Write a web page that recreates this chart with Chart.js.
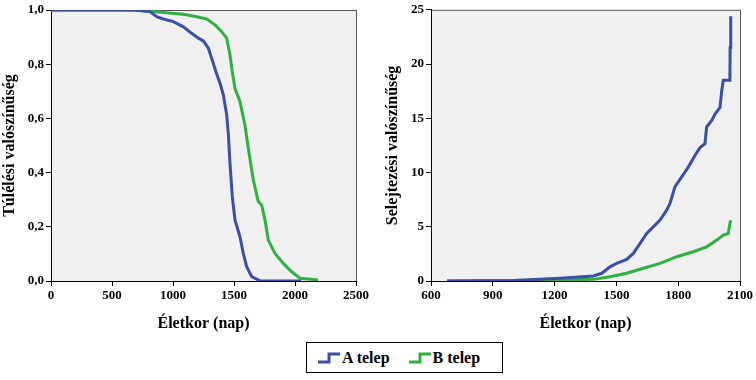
<!DOCTYPE html>
<html>
<head>
<meta charset="utf-8">
<script src="https://cdn.jsdelivr.net/npm/chart.js@4/dist/chart.umd.min.js"></script>
<style>
  html, body { margin:0; padding:0; background:#fff; }
  #wrap { position:relative; width:756px; height:380px; }
  .cw { position:absolute; top:0; width:378px; height:340px; }
  #legend { position:absolute; left:306px; top:342px; width:195px; height:29px; border:1px solid #000;
    font-family:"Liberation Serif", serif; font-weight:bold; font-size:16px; display:flex; align-items:center; box-sizing:content-box; }
  .item { display:flex; align-items:center; }
  .item svg { margin-right:1px; }
</style>
</head>
<body>
<div id="wrap">
  <div class="cw" style="left:0"><canvas id="c1" width="378" height="340"></canvas></div>
  <div class="cw" style="left:378px"><canvas id="c2" width="378" height="340"></canvas></div>
  <div id="legend">
    <div class="item" style="margin-left:10px"><svg width="24" height="14"><polyline points="1,11 12,11 12,3 23,3" fill="none" stroke="#3c4fa6" stroke-width="3"/></svg><span>A telep</span></div>
    <div class="item" style="margin-left:18px"><svg width="24" height="14"><polyline points="1,11 12,11 12,3 23,3" fill="none" stroke="#30b040" stroke-width="3"/></svg><span>B telep</span></div>
  </div>
</div>
<script>
// ---- Data ----
const seriesNames = ["A telep", "B telep"];
// Survival (Kaplan-Meier) curves: age in days, survival probability
const survA_x = [0, 680, 811, 866, 920, 1003, 1085, 1153, 1208, 1249, 1290, 1317, 1352, 1385, 1413, 1440, 1454, 1467, 1486, 1508, 1549, 1576, 1604, 1645, 1713, 1760, 2050];
const survA_y = [1.0, 1.0, 0.994, 0.975, 0.967, 0.957, 0.938, 0.914, 0.896, 0.886, 0.859, 0.822, 0.772, 0.730, 0.686, 0.613, 0.540, 0.434, 0.311, 0.225, 0.163, 0.102, 0.053, 0.016, 0.001, 0.0, 0.0];
const survB_x = [0, 680, 920, 1085, 1194, 1276, 1344, 1399, 1440, 1467, 1486, 1508, 1549, 1590, 1617, 1658, 1699, 1727, 1754, 1781, 1836, 1904, 1973, 2041, 2189];
const survB_y = [1.0, 1.0, 0.991, 0.984, 0.975, 0.967, 0.945, 0.920, 0.896, 0.834, 0.772, 0.711, 0.662, 0.575, 0.490, 0.373, 0.293, 0.280, 0.225, 0.151, 0.102, 0.065, 0.034, 0.010, 0.004];
// Cumulative hazard curves: age in days, hazard
const hazA_x = [678, 1000, 1226, 1388, 1429, 1469, 1501, 1550, 1582, 1615, 1647, 1679, 1712, 1744, 1760, 1784, 1817, 1849, 1882, 1906, 1930, 1938, 1963, 1979, 2003, 2011, 2019, 2051, 2052, 2055];
const hazA_y = [0, 0.05, 0.25, 0.46, 0.71, 1.31, 1.62, 1.99, 2.54, 3.46, 4.38, 4.99, 5.61, 6.53, 7.14, 8.67, 9.59, 10.5, 11.6, 12.3, 12.66, 14.2, 14.8, 15.4, 16.0, 17.5, 18.5, 18.5, 21.5, 24.4];
const hazB_x = [678, 1000, 1388, 1469, 1550, 1631, 1712, 1793, 1873, 1938, 1987, 2019, 2043, 2051, 2055];
const hazB_y = [0, 0.02, 0.15, 0.4, 0.71, 1.17, 1.62, 2.24, 2.7, 3.15, 3.77, 4.23, 4.38, 5.3, 5.6];
const survXTicks = [0, 500, 1000, 1500, 2000, 2500];
const survYTicks = [0, 0.2, 0.4, 0.6, 0.8, 1.0];
const hazXTicks = [600, 900, 1200, 1500, 1800, 2100];
const hazYTicks = [0, 5, 10, 15, 20, 25];

const colA = "#3c4fa6", colB = "#30b040";
const FONT = "'Liberation Serif', 'Times New Roman', serif";

const pts = (xs, ys) => xs.map((x, i) => ({x, y: ys[i]}));

const bgPlugin = {
  id: 'bg',
  beforeDraw(chart) {
    const {ctx, chartArea: a} = chart;
    ctx.save();
    ctx.fillStyle = '#f0f0f0';
    ctx.fillRect(a.left, a.top, a.right - a.left, a.bottom - a.top);
    ctx.strokeStyle = '#555';
    ctx.lineWidth = 1;
    ctx.beginPath();
    ctx.moveTo(a.left, a.top + 0.5); ctx.lineTo(a.right + 0.5, a.top + 0.5); ctx.lineTo(a.right + 0.5, a.bottom);
    ctx.stroke();
    ctx.restore();
  }
};

function makeChart(id, dsA, dsB, opt) {
  return new Chart(document.getElementById(id), {
    type: 'line',
    data: {
      datasets: [
        {label: seriesNames[0], data: dsA, borderColor: colA, borderWidth: 3, pointRadius: 0, tension: 0, fill: false},
        {label: seriesNames[1], data: dsB, borderColor: colB, borderWidth: 3, pointRadius: 0, tension: 0, fill: false}
      ]
    },
    options: {
      responsive: false, animation: false, devicePixelRatio: 1,
      layout: {padding: {top: opt.top, right: opt.right, left: 0, bottom: 0}},
      plugins: {legend: {display: false}, tooltip: {enabled: false}},
      scales: {
        x: {
          type: 'linear', min: opt.xmin, max: opt.xmax,
          afterBuildTicks: s => { s.ticks = opt.xticks.map(v => ({value: v})); },
          grid: {display: true, drawOnChartArea: false, drawTicks: true, tickLength: 5, color: '#000'},
          border: {color: '#000', width: 1},
          ticks: {color: '#000', font: {family: FONT, weight: 'bold', size: 13}, padding: 2, maxRotation: 0, autoSkip: false, callback: v => String(v)},
          title: {display: true, text: 'Életkor (nap)', color: '#000', font: {family: FONT, weight: 'bold', size: 16}, padding: {top: 4, bottom: 7}},
          afterFit: s => { s.height = 59; }
        },
        y: {
          type: 'linear', min: opt.ymin, max: opt.ymax,
          afterBuildTicks: s => { s.ticks = opt.yticks.map(v => ({value: v})); },
          grid: {display: true, drawOnChartArea: false, drawTicks: true, tickLength: 5, color: '#000'},
          border: {color: '#000', width: 1},
          ticks: {color: '#000', font: {family: FONT, weight: 'bold', size: 13}, padding: 2, autoSkip: false, callback: opt.yfmt},
          title: {display: true, text: opt.ytitle, color: '#000', font: {family: FONT, weight: 'bold', size: 16}, padding: {top: opt.ytp, bottom: 0}},
          afterFit: s => { s.width = opt.yw; }
        }
      }
    },
    plugins: [bgPlugin]
  });
}

makeChart('c1', pts(survA_x, survA_y), pts(survB_x, survB_y), {
  top: 10, right: 22, xmin: 0, xmax: 2500, xticks: survXTicks,
  ymin: 0, ymax: 1, yticks: survYTicks, yfmt: v => v.toFixed(1).replace('.', ','),
  ytitle: 'Túlélési valószínűség', ytp: 0, yw: 51
});
makeChart('c2', pts(hazA_x, hazA_y), pts(hazB_x, hazB_y), {
  top: 9, right: 16, xmin: 600, xmax: 2100, xticks: hazXTicks,
  ymin: 0, ymax: 25, yticks: hazYTicks, yfmt: v => String(v),
  ytitle: 'Selejtezési valószínűség', ytp: 5, yw: 53
});
</script>
</body>
</html>
